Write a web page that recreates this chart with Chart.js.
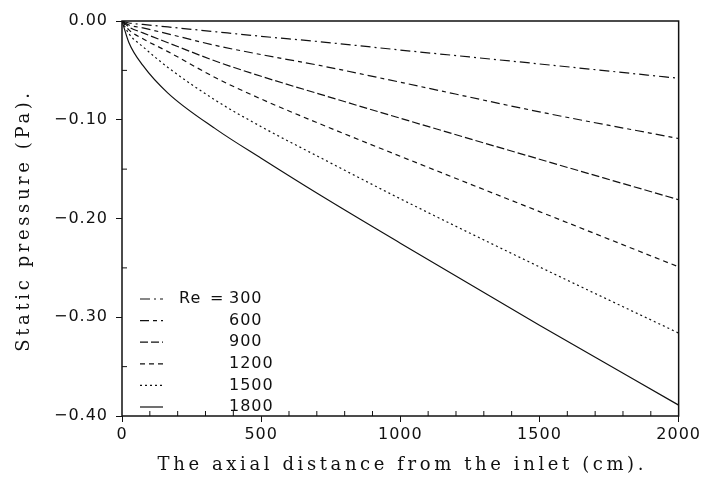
<!DOCTYPE html>
<html>
<head>
<meta charset="utf-8">
<script src="https://cdn.jsdelivr.net/npm/chart.js@4"></script>
<style>
  html, body { margin: 0; padding: 0; background: #fff; }
  #wrap { width: 704px; height: 489px; }
</style>
</head>
<body>
<div id="wrap"><canvas id="pressure"></canvas></div>
<script>
// axial distance (cm) where the curves were read
const distance = [0, 25, 75, 165, 340, 500, 710, 1000, 1500, 2000];
// static pressure (Pa) for each Reynolds number
const re300  = [0, -0.002, -0.0035, -0.006, -0.011, -0.0155, -0.021, -0.0294, -0.0435, -0.058];
const re600  = [0, -0.004, -0.007, -0.013, -0.025, -0.034, -0.045, -0.062, -0.092, -0.119];
const re900  = [0, -0.006, -0.012, -0.022, -0.041, -0.056, -0.074, -0.0985, -0.140, -0.181];
const re1200 = [0, -0.009, -0.018, -0.031, -0.058, -0.079, -0.104, -0.137, -0.193, -0.249];
const re1500 = [0, -0.013, -0.026, -0.047, -0.081, -0.107, -0.138, -0.180, -0.249, -0.316];
const re1800 = [0, -0.022, -0.045, -0.073, -0.110, -0.139, -0.176, -0.225, -0.308, -0.389];

const reLabels = ['300', '600', '900', '1200', '1500', '1800'];
const xMinorTicks = [100, 200, 300, 400, 600, 700, 800, 900, 1100, 1200, 1300, 1400, 1600, 1700, 1800, 1900];
const yMinorTicks = [-0.05, -0.15, -0.25, -0.35];
const xTitle = 'The axial distance from the inlet (cm).';
const yTitle = 'Static pressure (Pa).';

const ink = '#111';
const dashes = [[10, 4, 2, 4], [9, 4, 4, 4], [8, 3], [5, 4], [2, 3], []];
const series = [re300, re600, re900, re1200, re1500, re1800];

function pts(vals) {
  return distance.map((d, i) => ({ x: d, y: vals[i] }));
}

const datasets = series.map((vals, i) => ({
  label: reLabels[i],
  data: pts(vals),
  borderColor: ink,
  borderWidth: 1.2,
  borderDash: dashes[i],
  pointRadius: 0,
  fill: false,
  cubicInterpolationMode: 'monotone'
}));

// frame, inward minor ticks, spaced-out axis titles and the in-plot legend
const framePlugin = {
  id: 'frame',
  beforeLayout(chart) {
    chart.ctx.letterSpacing = '1px';
  },
  afterDraw(chart) {
    const ctx = chart.ctx;
    const a = chart.chartArea;
    const xs = chart.scales.x, ys = chart.scales.y;
    ctx.save();
    ctx.strokeStyle = ink;
    ctx.lineWidth = 1.5;
    ctx.strokeRect(a.left, a.top, a.right - a.left, a.bottom - a.top);
    ctx.lineWidth = 1;
    ctx.beginPath();
    xMinorTicks.forEach(v => {
      const px = xs.getPixelForValue(v);
      ctx.moveTo(px, a.bottom);
      ctx.lineTo(px, a.bottom - 5);
    });
    yMinorTicks.forEach(v => {
      const py = ys.getPixelForValue(v);
      ctx.moveTo(a.left, py);
      ctx.lineTo(a.left + 5, py);
    });
    ctx.stroke();

    // axis titles
    ctx.fillStyle = ink;
    ctx.font = '18px "DejaVu Serif"';
    ctx.letterSpacing = '3.6px';
    ctx.textAlign = 'center';
    ctx.textBaseline = 'middle';
    ctx.fillText(xTitle, (a.left + a.right) / 2 + 2, 465);
    ctx.save();
    ctx.translate(24, (a.top + a.bottom) / 2 + 2);
    ctx.rotate(-Math.PI / 2);
    ctx.fillText(yTitle, 0, 0);
    ctx.restore();

    // legend
    ctx.letterSpacing = '1px';
    ctx.font = '16px "DejaVu Sans"';
    ctx.textAlign = 'left';
    const x0 = a.left + 18, y0 = a.bottom - 117, step = 21.6;
    chart.data.datasets.forEach((ds, i) => {
      const y = y0 + i * step;
      ctx.setLineDash(ds.borderDash);
      ctx.lineWidth = 1.2;
      ctx.beginPath();
      ctx.moveTo(x0, y);
      ctx.lineTo(x0 + 23, y);
      ctx.stroke();
      ctx.setLineDash([]);
      if (i === 0) {
        ctx.fillText('Re', x0 + 39, y);
        ctx.fillText('=', x0 + 70, y);
      }
      ctx.fillText(ds.label, x0 + 89, y);
    });
    ctx.restore();
  }
};

new Chart(document.getElementById('pressure'), {
  type: 'line',
  data: { datasets },
  plugins: [framePlugin],
  options: {
    responsive: true,
    maintainAspectRatio: false,
    animation: false,
    layout: { padding: { top: 21, right: 20, left: 0, bottom: 0 } },
    plugins: { legend: { display: false }, tooltip: { enabled: false } },
    scales: {
      x: {
        type: 'linear',
        min: 0, max: 2000,
        afterFit(s) { s.height = 73; },
        border: { display: false },
        grid: { drawOnChartArea: false, color: ink, tickLength: 6, lineWidth: 1 },
        ticks: {
          stepSize: 500, color: ink, font: { family: 'DejaVu Sans', size: 16 }, padding: 3, maxRotation: 0,
          callback: v => String(v)
        }
      },
      y: {
        type: 'linear',
        min: -0.4, max: 0,
        afterFit(s) { s.width = 122; },
        border: { display: false },
        grid: { drawOnChartArea: false, color: ink, tickLength: 6, lineWidth: 1 },
        ticks: {
          stepSize: 0.1, color: ink, font: { family: 'DejaVu Sans', size: 16 }, padding: 8,
          callback: v => Math.abs(v) < 1e-9 ? '0.00' : '\u2212' + Math.abs(v).toFixed(2)
        }
      }
    }
  }
});
</script>
</body>
</html>
